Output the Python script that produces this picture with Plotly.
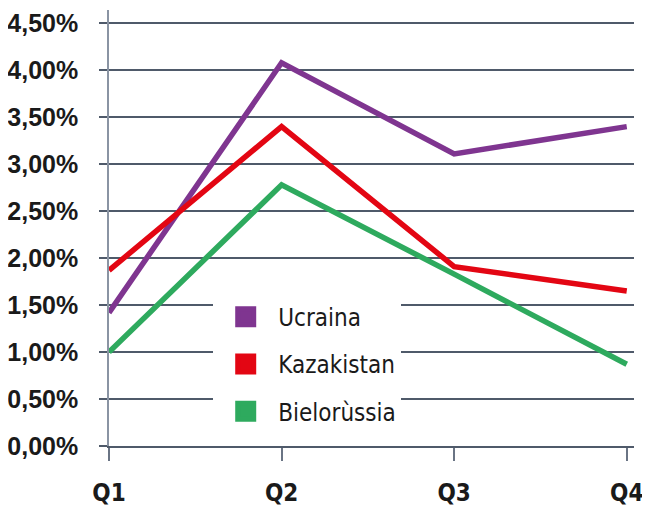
import plotly.graph_objects as go

quarters = ["Q1", "Q2", "Q3", "Q4"]
ucraina = [1.42, 4.08, 3.11, 3.40]
kazakistan = [1.87, 3.40, 1.91, 1.65]
bielorussia = [1.00, 2.78, 1.83, 0.87]
series_names = ["Ucraina", "Kazakistan", "Bielorùssia"]
series_colors = ["#7f3590", "#e30613", "#2eaa5e"]
y_tickvals = [0, 0.5, 1.0, 1.5, 2.0, 2.5, 3.0, 3.5, 4.0, 4.5]
y_ticktext = ["0,00%", "0,50%", "1,00%", "1,50%", "2,00%", "2,50%",
              "3,00%", "3,50%", "4,00%", "4,50%"]

series_values = [ucraina, kazakistan, bielorussia]

fig = go.Figure()
for name, vals, col in zip(series_names, series_values, series_colors):
    fig.add_trace(go.Scatter(
        x=quarters, y=vals, mode="lines", name=name,
        line=dict(color=col, width=5.5), showlegend=False,
    ))
for i, (name, col) in enumerate(zip(series_names, series_colors)):
    fig.add_trace(go.Scatter(
        x=[None], y=[None], mode="markers", name=name, legendgroup=f"g{i}",
        marker=dict(symbol="square", size=16, color=col,
                    line=dict(color=col, width=5)),
    ))

grid = "#4f5a6a"
cond = "DejaVu Sans Condensed"
fig.update_layout(
    width=642, height=521,
    margin=dict(l=100.7, r=16, t=2, b=82.7),
    paper_bgcolor="white", plot_bgcolor="white",
    showlegend=True,
    legend=dict(
        x=0.1985, y=0.347, xanchor="left", yanchor="top",
        xref="paper", yref="paper",
        bgcolor="white", borderwidth=0,
        font=dict(family=cond, size=24, color="#1a1a1a"),
        itemwidth=55, tracegroupgap=13,
    ),
    xaxis=dict(
        type="category", range=[0, 3.042], automargin=False,
        showgrid=False, zeroline=False,
        showline=True, linecolor=grid, linewidth=1.5,
        ticks="outside", ticklen=13, tickwidth=1.5, tickcolor="#6a7484",
        tickfont=dict(family=cond, size=24, color="#1a1a1a", weight="bold"),
        ticklabelstandoff=11,
    ),
    yaxis=dict(
        range=[0, 4.642], automargin=False,
        tickvals=y_tickvals, ticktext=y_ticktext,
        showgrid=True, gridcolor=grid, gridwidth=1.5,
        zeroline=False,
        showline=True, linecolor="#8a94a3", linewidth=1.5,
        ticks="outside", ticklen=8, tickwidth=1.5, tickcolor=grid,
        tickfont=dict(family="Liberation Sans", size=25, color="#1a1a1a", weight="bold"),
        ticklabelstandoff=16,
    ),
)

fig.write_html("out.html")
